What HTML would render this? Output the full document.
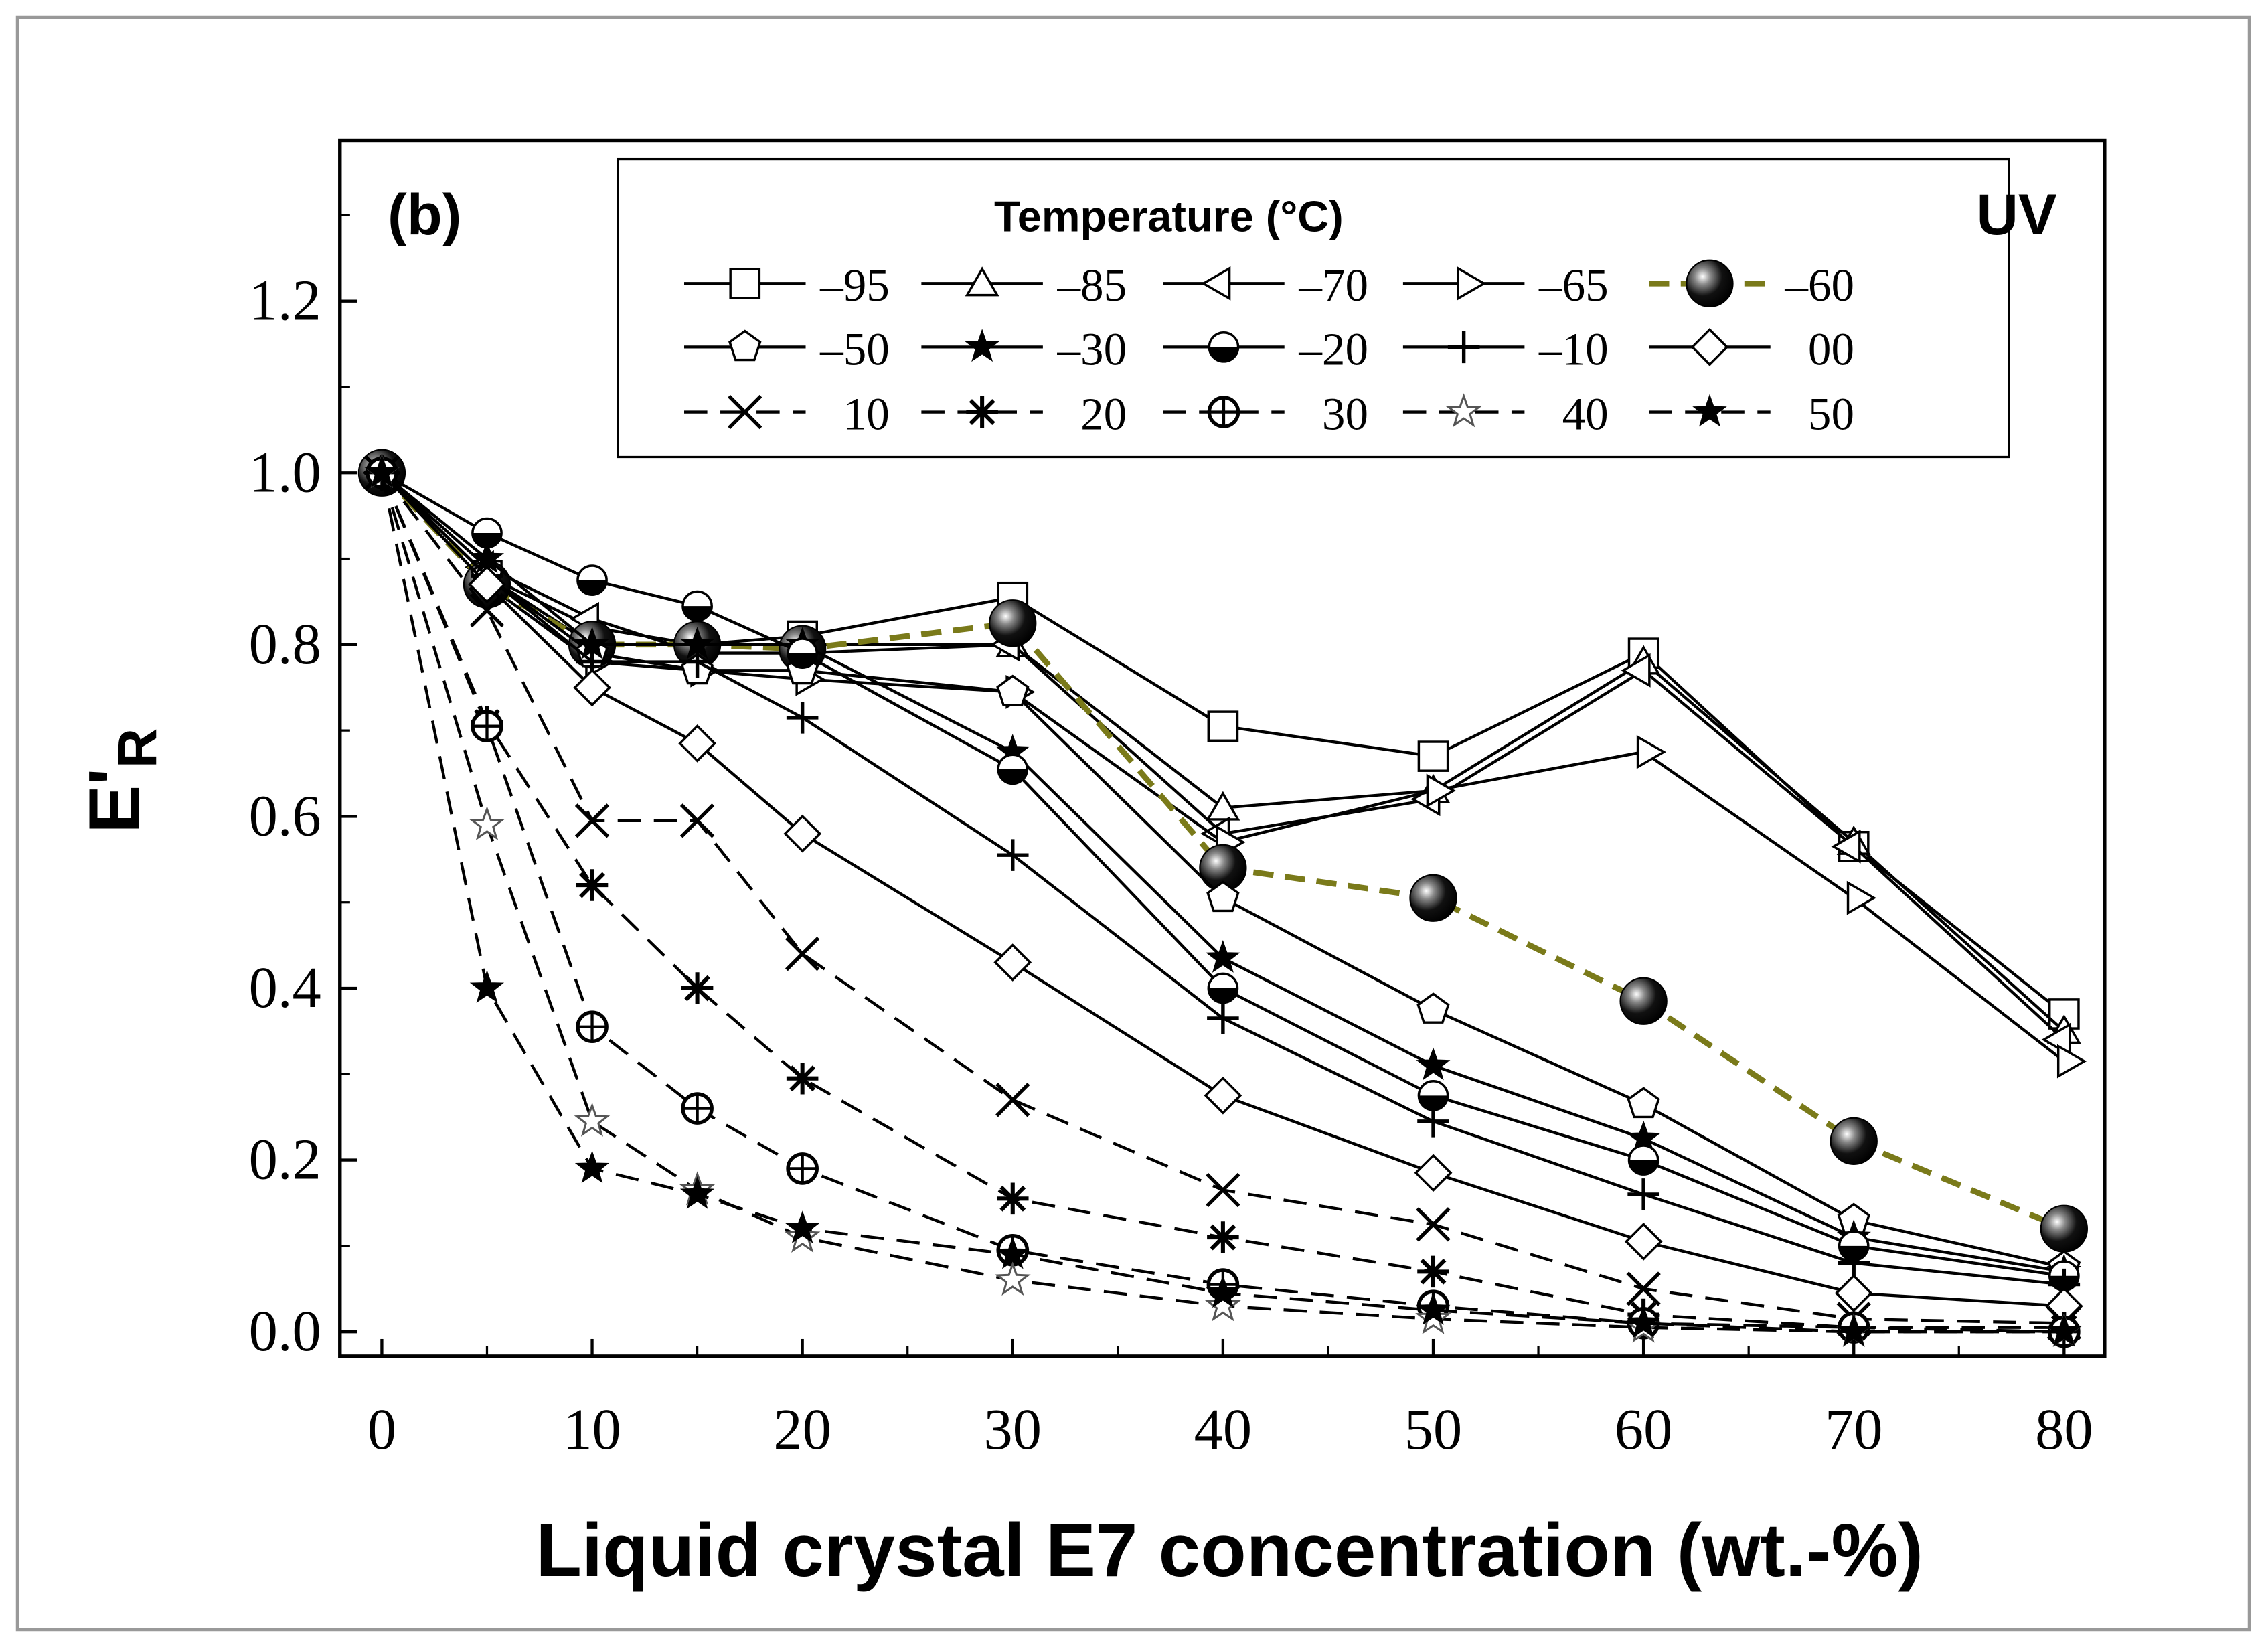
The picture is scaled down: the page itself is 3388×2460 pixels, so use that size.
<!DOCTYPE html>
<html><head><meta charset="utf-8"><style>
html,body{margin:0;padding:0;background:#fff;}
svg{display:block;}
</style></head><body>
<svg id="chart" width="3388" height="2460" viewBox="0 0 1568 1139" preserveAspectRatio="none" xmlns="http://www.w3.org/2000/svg">
<defs>
<radialGradient id="ballg" cx="0.35" cy="0.35" r="0.7">
<stop offset="0" stop-color="#fff"/><stop offset="0.25" stop-color="#888"/><stop offset="0.6" stop-color="#111"/><stop offset="1" stop-color="#000"/>
</radialGradient>
</defs>
<rect x="12" y="12" width="1543" height="1115" fill="none" stroke="#999" stroke-width="2"/>
<rect x="235" y="97" width="1220" height="841" fill="none" stroke="#000" stroke-width="2.5"/>
<g id="axes"></g>
<g id="series"></g>
<g id="legend">
<rect x="427" y="110" width="962" height="206" fill="#fff" stroke="#000" stroke-width="1.5"/>
<text x="808" y="160" text-anchor="middle" font-family="Liberation Sans, sans-serif" font-weight="bold" font-size="30">Temperature (°C)</text>
</g>
<text x="268" y="162" font-family="Liberation Sans, sans-serif" font-weight="bold" font-size="40">(b)</text>
<text x="1422" y="162" text-anchor="end" font-family="Liberation Sans, sans-serif" font-weight="bold" font-size="40">UV</text>
<text x="850" y="1090" text-anchor="middle" font-family="Liberation Sans, sans-serif" font-weight="bold" font-size="52">Liquid crystal E7 concentration (wt.-%)</text>
<text transform="translate(96,540) rotate(-90)" text-anchor="middle" font-family="Liberation Sans, sans-serif" font-weight="bold" font-size="50">E'<tspan font-size="38" dy="12">R</tspan></text>
</svg>
<script>
const xs = [0,5,10,15,20,30,40,50,60,70,80];
const labels = ['\u201395','\u201385','\u201370','\u201365','\u201360','\u201350','\u201330','\u201320','\u201310','00','10','20','30','40','50'];
const markers = ['square','triangle','ltri','rtri','ball','pentagon','fstar','half','plus','diamond','x','asterisk','ccircle','ostar','fstar'];
const sM95 = [1,0.88,0.80,0.80,0.81,0.855,0.705,0.67,0.79,0.565,0.37];
const sM85 = [1,0.88,0.82,0.80,0.80,0.80,0.61,0.63,0.78,0.57,0.35];
const sM70 = [1,0.89,0.83,0.79,0.79,0.80,0.58,0.62,0.77,0.565,0.34];
const sM65 = [1,0.87,0.78,0.77,0.76,0.745,0.57,0.63,0.675,0.505,0.315];
const sM60 = [1,0.87,0.80,0.80,0.795,0.825,0.54,0.505,0.385,0.222,0.12];
const sM50 = [1,0.88,0.79,0.77,0.77,0.745,0.505,0.375,0.265,0.13,0.075];
const sM30 = [1,0.90,0.80,0.80,0.80,0.675,0.435,0.31,0.225,0.11,0.07];
const sM20 = [1,0.93,0.875,0.845,0.79,0.655,0.40,0.275,0.20,0.10,0.065];
const sM10 = [1,0.88,0.78,0.78,0.715,0.555,0.365,0.245,0.16,0.08,0.055];
const s00 = [1,0.87,0.75,0.685,0.58,0.43,0.275,0.185,0.105,0.045,0.03];
const s10 = [1,0.84,0.595,0.595,0.44,0.27,0.165,0.125,0.05,0.015,0.01];
const s20 = [1,0.71,0.52,0.40,0.295,0.155,0.11,0.07,0.02,0.005,0.005];
const s30 = [1,0.705,0.355,0.26,0.19,0.095,0.055,0.03,0.01,0.005,0];
const s40 = [1,0.59,0.245,0.165,0.11,0.06,0.03,0.015,0.005,0,0];
const s50 = [1,0.40,0.19,0.16,0.12,0.09,0.045,0.025,0.01,0,0];
const seriesList = [sM95,sM85,sM70,sM65,sM60,sM50,sM30,sM20,sM10,s00,s10,s20,s30,s40,s50];
const xTicks = [0,10,20,30,40,50,60,70,80];
const yTicks = [0.0,0.2,0.4,0.6,0.8,1.0,1.2];

const NS='http://www.w3.org/2000/svg';
function X(v){return 264+v*(1427-264)/80;}
function Y(v){return 921-v*594;}
function mk(tag,attrs,parent){const e=document.createElementNS(NS,tag);for(const k in attrs)e.setAttribute(k,attrs[k]);parent.appendChild(e);return e;}
function starPts(cx,cy,R,r){let p=[];for(let i=0;i<10;i++){const a=-Math.PI/2+i*Math.PI/5;const rr=i%2?r:R;p.push((cx+rr*Math.cos(a)).toFixed(1)+','+(cy+rr*Math.sin(a)).toFixed(1));}return p.join(' ');}
function polyPts(cx,cy,R,n,rot){let p=[];for(let i=0;i<n;i++){const a=rot+i*2*Math.PI/n;p.push((cx+R*Math.cos(a)).toFixed(1)+','+(cy+R*Math.sin(a)).toFixed(1));}return p.join(' ');}
function drawMarker(g,type,cx,cy){
  const st={fill:'#fff',stroke:'#000','stroke-width':1.6};
  const s=10;
  if(type==='square')mk('rect',Object.assign({x:cx-s,y:cy-s,width:2*s,height:2*s},st),g);
  else if(type==='triangle')mk('polygon',Object.assign({points:polyPts(cx,cy+2,12,3,-Math.PI/2)},st),g);
  else if(type==='ltri')mk('polygon',Object.assign({points:polyPts(cx-2,cy,12,3,Math.PI)},st),g);
  else if(type==='rtri')mk('polygon',Object.assign({points:polyPts(cx+2,cy,12,3,0)},st),g);
  else if(type==='pentagon')mk('polygon',Object.assign({points:polyPts(cx,cy,11,5,-Math.PI/2)},st),g);
  else if(type==='diamond')mk('polygon',Object.assign({points:polyPts(cx,cy,12,4,0)},st),g);
  else if(type==='ball')mk('circle',{cx:cx,cy:cy,r:16,fill:'url(#ballg)',stroke:'#000','stroke-width':1},g);
  else if(type==='fstar')mk('polygon',{points:starPts(cx,cy,11,4.5),fill:'#000',stroke:'#000','stroke-width':1},g);
  else if(type==='ostar')mk('polygon',{points:starPts(cx,cy,11,4.5),fill:'#fff',stroke:'#555','stroke-width':1.4},g);
  else if(type==='half'){mk('circle',Object.assign({cx:cx,cy:cy,r:10},st),g);mk('path',{d:`M${cx-10},${cy} A10,10 0 0 0 ${cx+10},${cy} Z`,fill:'#000'},g);}
  else if(type==='plus'){mk('path',{d:`M${cx-11},${cy}H${cx+11}M${cx},${cy-11}V${cy+11}`,stroke:'#000','stroke-width':2.5},g);}
  else if(type==='x'){mk('path',{d:`M${cx-11},${cy-11}L${cx+11},${cy+11}M${cx-11},${cy+11}L${cx+11},${cy-11}`,stroke:'#000','stroke-width':2.5},g);}
  else if(type==='asterisk'){mk('path',{d:`M${cx-11},${cy}H${cx+11}M${cx},${cy-11}V${cy+11}M${cx-8},${cy-8}L${cx+8},${cy+8}M${cx-8},${cy+8}L${cx+8},${cy-8}`,stroke:'#000','stroke-width':2.8},g);}
  else if(type==='ccircle'){mk('circle',Object.assign({cx:cx,cy:cy,r:10},st,{'stroke-width':2.5}),g);mk('path',{d:`M${cx-10},${cy}H${cx+10}M${cx},${cy-10}V${cy+10}`,stroke:'#000','stroke-width':2},g);}
}
const ax=document.getElementById('axes');
yTicks.forEach(v=>{
  const t=mk('line',{x1:235,x2:247,y1:Y(v),y2:Y(v),stroke:'#000','stroke-width':2},ax);
  
  
  const l=mk('text',{x:222,y:Y(v)+13,'text-anchor':'end','font-family':'Liberation Serif, serif','font-size':40},ax);
  l.textContent=v.toFixed(1);
  
  
  const m=mk('line',{x1:235,x2:242,y1:Y(v+0.1),y2:Y(v+0.1),stroke:'#000','stroke-width':1.5},ax);
  
  
});
xTicks.forEach(v=>{
  const t=mk('line',{x1:X(v),x2:X(v),y1:938,y2:926,stroke:'#000','stroke-width':2},ax);
  
  
  const l=mk('text',{x:X(v),y:1002,'text-anchor':'middle','font-family':'Liberation Serif, serif','font-size':40},ax);
  l.textContent=String(v);
  
  
  if(v<80){const m=mk('line',{x1:X(v+5),x2:X(v+5),y1:938,y2:931,stroke:'#000','stroke-width':1.5},ax);
  
  }
});
const sg=document.getElementById('series');
seriesList.forEach((vals,i)=>{
  const g=mk('g',{},sg);
  
  
  const isBall=i===4, dashed=i>=10;
  const pts=vals.map((v,j)=>X(xs[j]).toFixed(1)+','+Y(v).toFixed(1)).join(' ');
  const pl=mk('polyline',{points:pts,fill:'none',stroke:isBall?'#7a7a1a':'#000','stroke-width':isBall?4:2,'stroke-dasharray':isBall?'14,8':(dashed?'16,9':'none')},g);
  
  
  vals.forEach((v,j)=>drawMarker(g,markers[i],X(xs[j]),Y(v)));
});
const lg=document.getElementById('legend');
const colX=[473,637,804,970,1140], rowY=[196,240,285];
labels.forEach((lab,i)=>{
  const c=i%5,r=Math.floor(i/5);
  const g=mk('g',{},lg);
  
  
  const x0=colX[c],y=rowY[r],isBall=i===4,dashed=i>=10;
  mk('line',{x1:x0,x2:x0+84,y1:y,y2:y,stroke:isBall?'#7a7a1a':'#000','stroke-width':isBall?4:2,'stroke-dasharray':isBall?'14,8':(dashed?'16,9':'none')},g);
  drawMarker(g,markers[i],x0+42,y);
  const t=mk('text',{x:x0+142,y:y+12,'text-anchor':'end','font-family':'Liberation Serif, serif','font-size':32},g);
  t.textContent=lab;
});
</script>
</body></html>
